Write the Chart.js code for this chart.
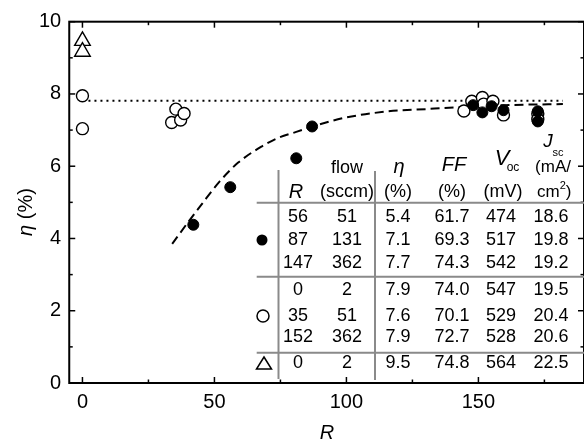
<!DOCTYPE html>
<html>
<head>
<meta charset="utf-8">
<script src="https://cdn.jsdelivr.net/npm/chart.js@4.4.1/dist/chart.umd.min.js"></script>
<style>
  html, body { margin: 0; padding: 0; background: #fff; }
  canvas { display: block; }
</style>
</head>
<body>
<canvas id="chart" width="584" height="440"></canvas>
<script>
// Ejes
const xTicks = [0, 50, 100, 150];
const xMinorTicks = [25, 75, 125, 175];
const yTicks = [0, 2, 4, 6, 8, 10];
const yMinorTicks = [1, 3, 5, 7, 9];

// Puntos abiertos (circulos)
const openR   = [0, 0, 33.8, 35.4, 37.2, 38.5, 144.5, 147.5, 151.5, 152, 155.5, 159.5, 172.5, 172.5];
const openEta = [7.95, 7.04, 7.21, 7.58, 7.28, 7.46, 7.53, 7.8, 7.9, 7.72, 7.8, 7.42, 7.45, 7.3];

// Puntos llenos
const filledR   = [42, 56, 81, 87, 148, 151.5, 155, 159.5, 172.5, 172.5];
const filledEta = [4.38, 5.42, 6.22, 7.1, 7.69, 7.49, 7.66, 7.55, 7.52, 7.24];

// Triangulos
const triR   = [0, 0];
const triEta = [9.47, 9.17];

// Curva discontinua
const curveR   = [34, 40, 45, 52, 59, 68, 74, 81, 88, 100, 116, 130, 142, 160, 182];
const curveEta = [3.85, 4.45, 4.93, 5.58, 6.1, 6.55, 6.78, 6.95, 7.12, 7.35, 7.52, 7.58, 7.63, 7.69, 7.72];

// Linea punteada
const dottedR   = [0, 182];
const dottedEta = [7.81, 7.81];

// Tabla
const tableRows = [
  ['56', '51', '5.4', '61.7', '474', '18.6'],
  ['87', '131', '7.1', '69.3', '517', '19.8'],
  ['147', '362', '7.7', '74.3', '542', '19.2'],
  ['0', '2', '7.9', '74.0', '547', '19.5'],
  ['35', '51', '7.6', '70.1', '529', '20.4'],
  ['152', '362', '7.9', '72.7', '528', '20.6'],
  ['0', '2', '9.5', '74.8', '564', '22.5']
];

const FONT = '"Liberation Sans", Arial, sans-serif';
const toPoints = (xs, ys) => xs.map((v, i) => ({ x: v, y: ys[i] }));

// Marcas de los ejes hacia dentro y marco completo
const frameTicks = {
  id: 'frameTicks',
  afterDatasetsDraw(chart) {
    const { ctx, chartArea: a, scales: { x, y } } = chart;
    ctx.save();
    ctx.strokeStyle = '#000';
    ctx.lineWidth = 2;
    ctx.strokeRect(a.left, a.top, a.right - a.left, a.bottom - a.top);
    ctx.lineWidth = 1.5;
    const tick = (x0, y0, x1, y1) => { ctx.beginPath(); ctx.moveTo(x0, y0); ctx.lineTo(x1, y1); ctx.stroke(); };
    xTicks.concat(xMinorTicks).forEach(v => {
      const px = x.getPixelForValue(v);
      const len = xTicks.includes(v) ? 6 : 3.5;
      tick(px, a.bottom, px, a.bottom - len);
      tick(px, a.top, px, a.top + len);
    });
    yTicks.concat(yMinorTicks).forEach(v => {
      const py = y.getPixelForValue(v);
      const len = yTicks.includes(v) ? 6 : 3.5;
      tick(a.left, py, a.left + len, py);
      tick(a.right, py, a.right - len, py);
    });
    ctx.restore();
  }
};

// Titulos de ejes (eta en cursiva)
const axisTitles = {
  id: 'axisTitles',
  afterDraw(chart) {
    const { ctx } = chart;
    ctx.save();
    ctx.fillStyle = '#000';
    ctx.textBaseline = 'middle';
    ctx.textAlign = 'center';
    ctx.font = 'italic 20px ' + FONT;
    ctx.fillText('R', 327, 433);

    ctx.translate(26, 212);
    ctx.rotate(-Math.PI / 2);
    ctx.textAlign = 'left';
    ctx.font = 'italic 20px ' + FONT;
    const w1 = ctx.measureText('η').width;
    ctx.font = '20px ' + FONT;
    const w2 = ctx.measureText(' (%)').width;
    const start = -(w1 + w2) / 2;
    ctx.font = 'italic 20px ' + FONT;
    ctx.fillText('η', start, 0);
    ctx.font = '20px ' + FONT;
    ctx.fillText(' (%)', start + w1, 0);
    ctx.restore();
  }
};

// Tabla dentro del grafico
const tablePlugin = {
  id: 'tablePlugin',
  afterDraw(chart) {
    const ctx = chart.ctx;
    const colX = [298, 347, 398, 452, 501, 551];
    const rowY = [216.7, 240, 263.3, 290, 316, 337.5, 363.5];
    ctx.save();
    ctx.strokeStyle = '#8a8a8a';
    ctx.lineWidth = 2;
    const line = (x0, y0, x1, y1) => { ctx.beginPath(); ctx.moveTo(x0, y0); ctx.lineTo(x1, y1); ctx.stroke(); };
    [202.7, 276.7, 352.7].forEach(y => line(256.7, y, 590, y));
    line(278.5, 170, 278.5, 379);
    line(375, 171, 375, 380);

    ctx.fillStyle = '#000';
    ctx.textAlign = 'center';
    ctx.textBaseline = 'middle';
    ctx.font = '18px ' + FONT;
    tableRows.forEach((row, i) => {
      row.forEach((txt, j) => ctx.fillText(txt, colX[j], rowY[i]));
    });

    // encabezados
    ctx.font = '18px ' + FONT;
    ctx.fillText('flow', 347, 168);
    ctx.fillText('(sccm)', 347, 192);
    ctx.fillText('(%)', 398, 192);
    ctx.fillText('(%)', 452, 192);
    ctx.fillText('(mV)', 503, 192);
    ctx.font = '17px ' + FONT;
    ctx.fillText('(mA/', 553, 167);
    ctx.textAlign = 'left';
    ctx.fillText('cm', 537, 192);
    const cmW = ctx.measureText('cm').width;
    ctx.font = '11px ' + FONT;
    ctx.fillText('2', 537 + cmW, 186);
    const twoW = ctx.measureText('2').width;
    ctx.font = '17px ' + FONT;
    ctx.fillText(')', 537 + cmW + twoW, 192);

    ctx.textAlign = 'center';
    ctx.font = 'italic 20px ' + FONT;
    ctx.fillText('R', 296, 192);
    ctx.fillText('η', 399, 167);
    ctx.fillText('FF', 454, 165);
    ctx.font = 'italic 22px ' + FONT;
    ctx.fillText('V', 502, 159);
    ctx.font = '12px ' + FONT;
    ctx.fillText('oc', 513, 168);
    ctx.font = 'italic 19px ' + FONT;
    ctx.fillText('J', 548, 142);
    ctx.font = '11px ' + FONT;
    ctx.fillText('sc', 558, 153);

    // simbolos de la leyenda
    ctx.strokeStyle = '#000';
    ctx.lineWidth = 1.5;
    ctx.beginPath(); ctx.arc(262, 240, 5.5, 0, Math.PI * 2); ctx.fill();
    ctx.beginPath(); ctx.arc(263, 316, 6, 0, Math.PI * 2); ctx.stroke();
    ctx.beginPath();
    ctx.moveTo(264, 357); ctx.lineTo(271.5, 369); ctx.lineTo(256.5, 369); ctx.closePath();
    ctx.stroke();
    ctx.restore();
  }
};

const noPad = s => { s.paddingLeft = 0; s.paddingRight = 0; s.paddingTop = 0; s.paddingBottom = 0; };

new Chart(document.getElementById('chart'), {
  type: 'scatter',
  data: {
    datasets: [
      {
        data: toPoints(dottedR, dottedEta),
        showLine: true, pointRadius: 0, borderColor: '#000', borderWidth: 2,
        borderDash: [2, 4], order: 5
      },
      {
        data: toPoints(curveR, curveEta),
        showLine: true, pointRadius: 0, borderColor: '#000', borderWidth: 2,
        borderDash: [9, 5], cubicInterpolationMode: 'monotone', order: 4
      },
      {
        data: toPoints(openR, openEta),
        pointStyle: 'circle', pointRadius: 6, backgroundColor: '#fff',
        borderColor: '#000', borderWidth: 1.4, order: 3
      },
      {
        data: toPoints(filledR, filledEta),
        pointStyle: 'circle', pointRadius: 5.5, backgroundColor: '#000',
        borderColor: '#000', borderWidth: 1, order: 2
      },
      {
        data: toPoints(triR, triEta),
        pointStyle: 'triangle', pointRadius: 9, backgroundColor: '#fff',
        borderColor: '#000', borderWidth: 1.4, order: 1
      }
    ]
  },
  options: {
    responsive: false,
    animation: false,
    events: [],
    layout: { autoPadding: false, padding: { top: 21.7, left: 31, right: -2, bottom: 19 } },
    plugins: { legend: { display: false }, tooltip: { enabled: false } },
    scales: {
      x: {
        type: 'linear', min: -5, max: 190,
        afterBuildTicks: s => { s.ticks = xTicks.map(v => ({ value: v })); },
        afterFit: noPad,
        grid: { display: false, drawTicks: false },
        border: { display: false },
        ticks: { color: '#000', font: { family: FONT, size: 20 }, padding: 7, maxRotation: 0 }
      },
      y: {
        min: 0, max: 10,
        afterBuildTicks: s => { s.ticks = yTicks.map(v => ({ value: v })); },
        afterFit: noPad,
        grid: { display: false, drawTicks: false },
        border: { display: false },
        ticks: { color: '#000', font: { family: FONT, size: 20 }, padding: 8 }
      }
    }
  },
  plugins: [frameTicks, axisTitles, tablePlugin]
});
</script>
</body>
</html>
